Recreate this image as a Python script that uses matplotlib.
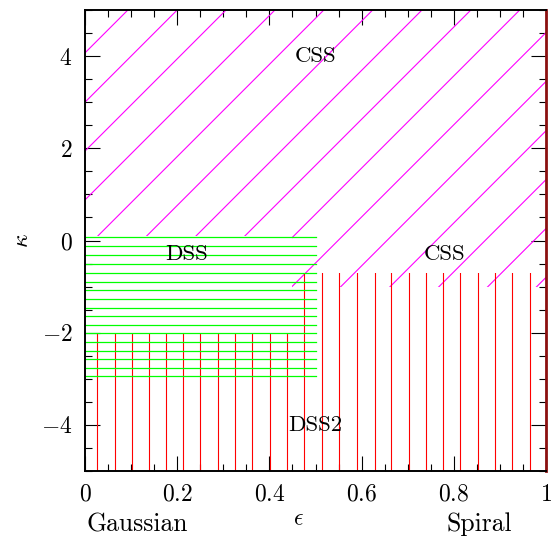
import numpy as np
import matplotlib
matplotlib.use("Agg")
import matplotlib.pyplot as plt
from matplotlib.patches import Polygon
from matplotlib.ticker import MultipleLocator

plt.rcParams['font.family'] = 'cmr10'
plt.rcParams['mathtext.fontset'] = 'cm'
plt.rcParams['axes.unicode_minus'] = False

# CSS region: hatched with diagonal lines y = slope * x + c
css_slope = 10.0
css_intercepts = [4.07, 3.00, 1.94, 0.88, -0.18, -1.24, -2.31, -3.37,
                  -4.43, -5.49, -6.55, -7.62, -8.68, -9.74, -10.80]
css_region_x = [0.0, 0.45, 0.45, 1.0, 1.0, 0.0]
css_region_y = [0.1, 0.1, -1.0, -1.0, 5.0, 5.0]

# DSS region: horizontal lines
dss_x = [0.0, 0.5]
dss_y = [0.07, -0.12, -0.31, -0.50, -0.70, -0.89, -1.08, -1.27, -1.46,
         -1.64, -1.83, -2.01, -2.20, -2.39, -2.58, -2.77, -2.95]

# DSS2 region: vertical lines
dss2_x = [0.027, 0.064, 0.101, 0.138, 0.176, 0.213, 0.250, 0.288, 0.326,
          0.363, 0.401, 0.439, 0.476, 0.515, 0.552, 0.589, 0.628, 0.664,
          0.702, 0.739, 0.777, 0.814, 0.852, 0.889, 0.927, 0.965, 1.0]
dss2_region_x = [0.0, 0.46, 0.46, 1.0, 1.0, 0.0]
dss2_region_y = [-2.0, -2.0, -0.71, -0.71, -5.0, -5.0]

labels = ["CSS", "DSS", "CSS", "DSS2"]
label_x = [0.50, 0.22, 0.78, 0.50]
label_y = [4.0, -0.3, -0.3, -4.0]

xticks = [0, 0.2, 0.4, 0.6, 0.8, 1.0]
xticklabels = ["$0$", "$0.2$", "$0.4$", "$0.6$", "$0.8$", "$1$"]
yticks = [-4, -2, 0, 2, 4]
yticklabels = ["$-4$", "$-2$", "$0$", "$2$", "$4$"]

fig = plt.figure(figsize=(5.52, 5.37), dpi=100)
ax = fig.add_axes([85 / 552, 1 - 471 / 537, 461 / 552, 461 / 537])
ax.set_xlim(0, 1)
ax.set_ylim(-5, 5)

# CSS hatch
css_clip = Polygon(np.column_stack([css_region_x, css_region_y]), closed=True,
                   transform=ax.transData, fill=False, edgecolor='none')
for c in css_intercepts:
    ln, = ax.plot([0, 1], [c, c + css_slope], color='#ff00ff', lw=0.8)
    ln.set_clip_path(css_clip)

# DSS2 hatch
dss2_clip = Polygon(np.column_stack([dss2_region_x, dss2_region_y]), closed=True,
                    transform=ax.transData, fill=False, edgecolor='none')
for x in dss2_x:
    ln, = ax.plot([x, x], [-5, 5], color='#ff0000', lw=0.8)
    ln.set_clip_path(dss2_clip)

# DSS hatch
for y in dss_y:
    ax.plot(dss_x, [y, y], color='#00ff00', lw=0.9)

for s, x, y in zip(labels, label_x, label_y):
    ax.text(x, y, s, fontsize=16.5, ha='center', va='center')

ax.set_xticks(xticks)
ax.set_xticklabels(xticklabels)
ax.set_yticks(yticks)
ax.set_yticklabels(yticklabels)
ax.xaxis.set_minor_locator(MultipleLocator(0.05))
ax.yaxis.set_minor_locator(MultipleLocator(0.5))
ax.tick_params(which='both', direction='in', top=True, right=True, width=0.8, colors='black')
ax.tick_params(which='major', length=10.5, labelsize=17, pad=9)
ax.tick_params(which='minor', length=5)

for sp in ax.spines.values():
    sp.set_linewidth(1.4)
ax.spines['right'].set_color('#8b1010')
ax.spines['right'].set_linewidth(2.0)

fig.text(298 / 552, 1 - 519 / 537, r'$\epsilon$', fontsize=17, ha='center', va='center')
fig.text(22 / 552, 1 - 241 / 537, r'$\kappa$', fontsize=17, ha='center', va='center', rotation=90)
fig.text(86 / 552, 1 - 531 / 537, 'Gaussian', fontsize=18.5, ha='left', va='baseline')
fig.text(512 / 552, 1 - 531 / 537, 'Spiral', fontsize=18.5, ha='right', va='baseline')

fig.savefig('out.png', dpi=100)
